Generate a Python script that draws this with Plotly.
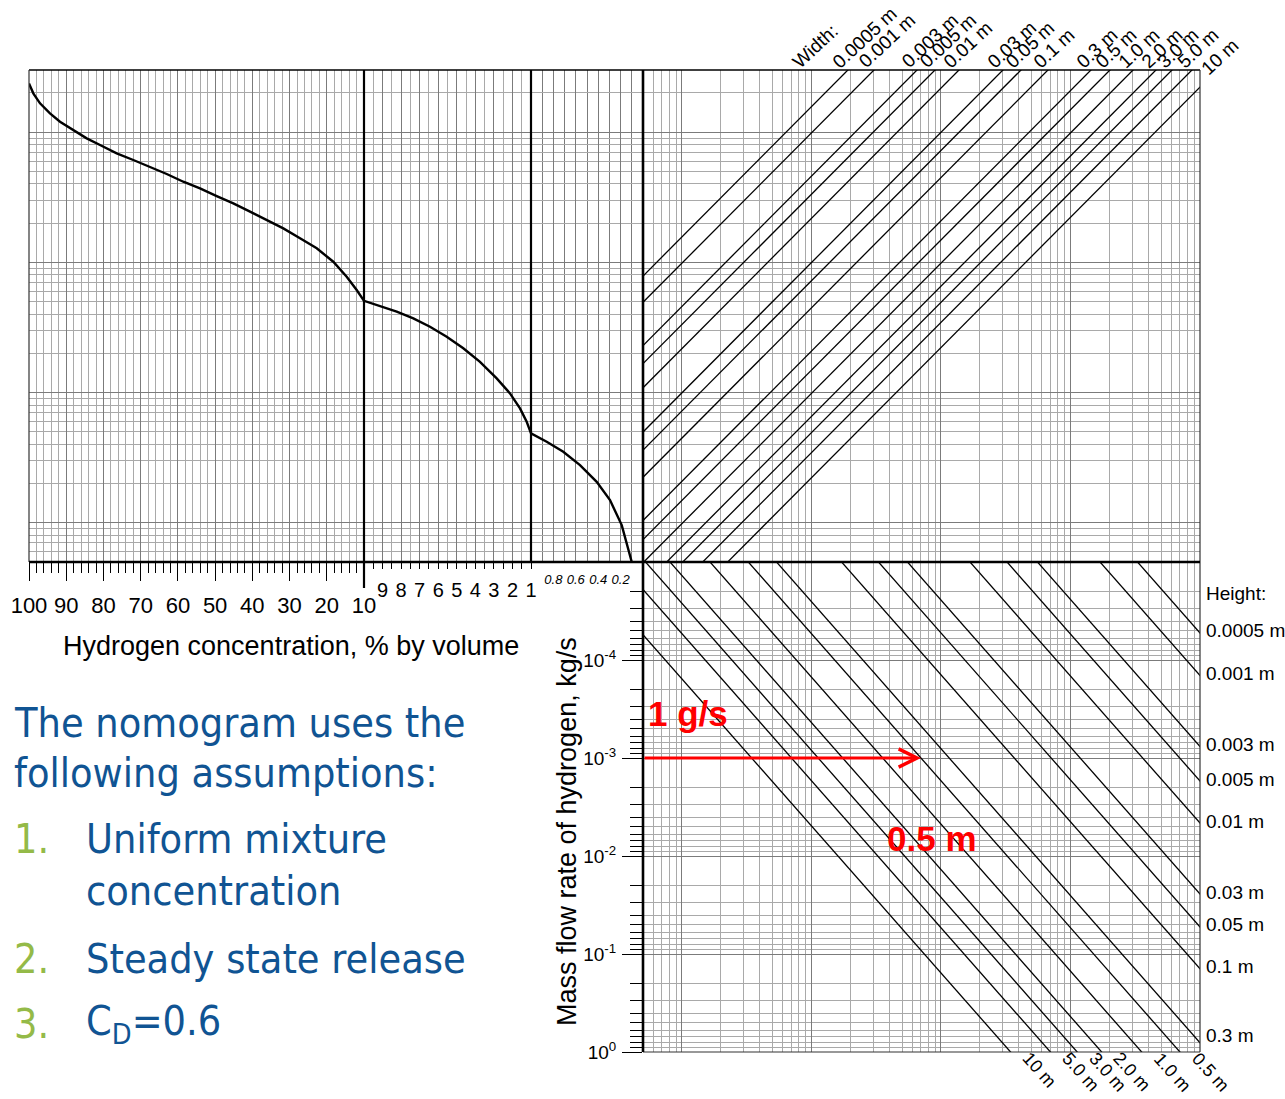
import math
import plotly.graph_objects as go

# ------------------------------------------------------------------ data
# Concentration curve: hydrogen % by volume against the nomogram ordinate,
# one piece per section of the broken concentration scale.
conc_high = [100, 98.84, 97.04, 94.36, 91.67, 88.10, 84.50, 80.92, 76.44, 71.98,
             67.49, 63.00, 58.55, 54.06, 49.57, 45.11, 40.62, 36.14, 31.68, 27.19,
             22.70, 18.25, 14.65, 11.96, 10.0]
ord_high = [2361, 1986, 1664, 1394, 1202, 1038, 896, 796, 687, 611,
            542, 477, 416, 370, 323, 284, 245, 211, 182.4, 152.9,
            128.2, 101.1, 77.5, 61.3, 50.7]
conc_mid = [10.0, 9.138, 8.238, 7.343, 6.443, 5.543, 4.649, 3.749, 2.849, 2.132,
            1.593, 1.232, 1.0]
ord_mid = [50.7, 46.2, 41.8, 37.1, 32.0, 26.8, 21.9, 17.2, 12.85, 9.86,
           7.56, 5.97, 4.86]
conc_low = [1.0, 0.860, 0.712, 0.5625, 0.4134, 0.2946, 0.190, 0.1455, 0.1009]
ord_low = [4.86, 4.19, 3.51, 2.77, 2.065, 1.494, 0.960, 0.695, 0.502]

# Vent width family (upper right): abscissa where each line meets ordinate 1000
width_labels = ["0.0005 m", "0.001 m", "0.003 m", "0.005 m", "0.01 m", "0.03 m",
                "0.05 m", "0.1 m", "0.3 m", "0.5 m", "1.0 m", "2.0 m", "3.0 m",
                "5.0 m", "10 m"]
width_x_at_1000 = [6.37, 10.13, 21.77, 29.97, 45.9, 100.3, 138.3, 223.3, 479.7,
                   672.7, 1013.7, 1523.7, 2027, 2890, 4507]
WIDTH_SLOPE = 1.0

# Vent height family (lower right): abscissa where each line meets 1e-5 kg/s
height_labels = ["0.0005 m", "0.001 m", "0.003 m", "0.005 m", "0.01 m", "0.03 m",
                 "0.05 m", "0.1 m", "0.3 m", "0.5 m", "1.0 m", "2.0 m", "3.0 m",
                 "5.0 m", "10 m"]
height_x_at_1e5 = [3292, 1690, 556, 323.6, 167.5, 55.1, 32.9, 17.08, 5.37,
                   3.25, 1.646, 0.808, 0.523, 0.325, 0.160]
HEIGHT_SLOPE = 1.5

# Worked example
example_rate = 1e-3          # kg/s (1 g/s)
example_height = "0.5 m"

# Tick labels
conc_ticks_high = [100, 90, 80, 70, 60, 50, 40, 30, 20, 10]
conc_ticks_mid = [9, 8, 7, 6, 5, 4, 3, 2, 1]
conc_ticks_low = [0.8, 0.6, 0.4, 0.2]
flow_ticks = [1e-4, 1e-3, 1e-2, 1e-1, 1]
flow_ticktext = ["10<sup>-4</sup>", "10<sup>-3</sup>", "10<sup>-2</sup>",
                 "10<sup>-1</sup>", "10<sup>0</sup>"]

# ------------------------------------------------------------------ layout
FIG_W, FIG_H = 1285, 1099
X_LEFT, X_10, X_1, X_MID, X_RIGHT = 29, 364, 531, 643, 1200
Y_TOP, Y_MID, Y_BOT = 70, 562, 1052

def fx(px):
    return px / FIG_W

def fy(py):
    return 1 - py / FIG_H

ORD_RANGE = [math.log10(0.5), math.log10(3000)]
ABS_RANGE = [math.log10(0.5), 4.0]
FLOW_RANGE = [0, -5]
PX_PER_DECADE = (X_RIGHT - X_MID) / (ABS_RANGE[1] - ABS_RANGE[0])

GRID_DARK = "#7b7b7b"
GRID_LIGHT = "#a9a9a9"
LABEL_FONT = "Liberation Sans, Arial, sans-serif"
TEXT_FONT = "DejaVu Sans Condensed, DejaVu Sans, sans-serif"
BLUE = "#105493"
GREEN = "#94ba48"
RED = "#ff0000"


def log_steps(lo_exp, hi_exp, lo=None, hi=None):
    major, minor = [], []
    for e in range(lo_exp, hi_exp + 1):
        for d in range(1, 10):
            v = d * 10 ** e
            if lo is not None and v < lo * 0.999:
                continue
            if hi is not None and v > hi * 1.001:
                continue
            (major if d == 1 else minor).append(v)
    return major, minor


abs_major, abs_minor = log_steps(-1, 4, 0.5, 1e4)
ord_major, ord_minor = log_steps(-1, 3, 0.5, 3000)
flow_major, flow_minor = log_steps(-5, 0, 1e-5, 1)

fig = go.Figure()

# concentration curve
for xs, ys, xa in ((conc_high, ord_high, "x"), (conc_mid, ord_mid, "x2"),
                   (conc_low, ord_low, "x3")):
    fig.add_trace(go.Scatter(x=xs, y=ys, xaxis=xa, yaxis="y", mode="lines",
                             line=dict(color="black", width=2.4),
                             hoverinfo="skip", showlegend=False))

# vent width lines
x_span = [0.2, 3e4]
for xw in width_x_at_1000:
    fig.add_trace(go.Scatter(
        x=x_span, y=[1000 * (x / xw) ** WIDTH_SLOPE for x in x_span],
        xaxis="x4", yaxis="y", mode="lines",
        line=dict(color="black", width=1.3), hoverinfo="skip", showlegend=False))

# vent height lines
for x0 in height_x_at_1e5:
    fig.add_trace(go.Scatter(
        x=x_span, y=[1e-5 * (x / x0) ** HEIGHT_SLOPE for x in x_span],
        xaxis="x5", yaxis="y2", mode="lines",
        line=dict(color="black", width=1.3), hoverinfo="skip", showlegend=False))

tick_font = dict(family=LABEL_FONT, color="black")

fig.update_layout(
    width=FIG_W, height=FIG_H,
    margin=dict(l=0, r=0, t=0, b=0, pad=0, autoexpand=False),
    paper_bgcolor="white", plot_bgcolor="white",
    showlegend=False,
    xaxis=dict(
        domain=[fx(X_LEFT), fx(X_10)], range=[100, 10], anchor="y",
        automargin=False,
        tickmode="array", tickvals=conc_ticks_high,
        ticktext=[str(v) for v in conc_ticks_high],
        ticks="outside", ticklen=18, tickcolor="black", tickwidth=1,
        tickfont=dict(size=22, **tick_font), ticklabelstandoff=6,
        showgrid=True, gridcolor=GRID_DARK, gridwidth=1,
        minor=dict(tickvals=[v for v in range(12, 100, 2) if v % 10],
                   ticks="outside", ticklen=10, tickcolor="black",
                   showgrid=True, gridcolor=GRID_LIGHT),
        zeroline=False, showline=False),
    xaxis2=dict(
        domain=[fx(X_10), fx(X_1)], range=[10, 1], anchor="y",
        automargin=False,
        tickmode="array", tickvals=conc_ticks_mid,
        ticktext=[str(v) for v in conc_ticks_mid],
        ticks="outside", ticklen=6, tickcolor="black", tickwidth=1,
        tickfont=dict(size=20, **tick_font), ticklabelstandoff=4,
        showgrid=True, gridcolor=GRID_DARK,
        minor=dict(tickvals=[v + 0.5 for v in range(1, 10)],
                   ticks="outside", ticklen=6, tickcolor="black",
                   showgrid=True, gridcolor=GRID_LIGHT),
        zeroline=False, showline=False),
    xaxis3=dict(
        domain=[fx(X_1), fx(X_MID)], range=[1, 0], anchor="y",
        automargin=False,
        tickmode="array", tickvals=conc_ticks_low,
        ticktext=[f"{v:.1f}" for v in conc_ticks_low],
        ticks="", tickfont=dict(size=13, style="italic", **tick_font),
        ticklabelstandoff=8,
        showgrid=True, gridcolor=GRID_DARK,
        minor=dict(tickvals=[0.1, 0.3, 0.5, 0.7, 0.9], ticks="",
                   showgrid=True, gridcolor=GRID_DARK),
        zeroline=False, showline=False),
    xaxis4=dict(
        domain=[fx(X_MID), fx(X_RIGHT)], type="log", range=ABS_RANGE, anchor="y",
        automargin=False,
        tickmode="array", tickvals=abs_major, showticklabels=False, ticks="",
        showgrid=True, gridcolor=GRID_DARK,
        minor=dict(tickvals=abs_minor, ticks="", showgrid=True,
                   gridcolor=GRID_LIGHT),
        zeroline=False, showline=False),
    xaxis5=dict(
        domain=[fx(X_MID), fx(X_RIGHT)], type="log", range=ABS_RANGE, anchor="y2",
        matches="x4", automargin=False,
        tickmode="array", tickvals=abs_major, showticklabels=False, ticks="",
        showgrid=True, gridcolor=GRID_DARK,
        minor=dict(tickvals=abs_minor, ticks="", showgrid=True,
                   gridcolor=GRID_LIGHT),
        zeroline=False, showline=False),
    yaxis=dict(
        domain=[fy(Y_MID), fy(Y_TOP)], type="log", range=ORD_RANGE, anchor="x",
        automargin=False,
        tickmode="array", tickvals=ord_major, showticklabels=False, ticks="",
        showgrid=True, gridcolor=GRID_DARK,
        minor=dict(tickvals=ord_minor, ticks="", showgrid=True,
                   gridcolor=GRID_LIGHT),
        zeroline=False, showline=False),
    yaxis2=dict(
        domain=[fy(Y_BOT), fy(Y_MID)], type="log", range=FLOW_RANGE, anchor="x5",
        automargin=False,
        tickmode="array", tickvals=flow_ticks, ticktext=flow_ticktext,
        ticks="outside", ticklen=20, tickcolor="black", tickwidth=1,
        tickfont=dict(size=19, **tick_font), ticklabelstandoff=2,
        showgrid=True, gridcolor=GRID_DARK,
        minor=dict(tickvals=flow_minor + [1e-5], ticks="outside", ticklen=12,
                   tickcolor="black", showgrid=True, gridcolor=GRID_LIGHT),
        zeroline=False, showline=False),
)

# panel frame and section dividers
def line_shape(x0, y0, x1, y1, width, color="black"):
    return dict(type="line", xref="paper", yref="paper",
                x0=fx(x0), y0=fy(y0), x1=fx(x1), y1=fy(y1),
                line=dict(color=color, width=width), layer="above")

shapes = [
    line_shape(X_LEFT, Y_TOP, X_RIGHT, Y_TOP, 1.5),
    line_shape(X_LEFT, Y_TOP, X_LEFT, Y_MID, 1.2, "#333333"),
    line_shape(X_RIGHT, Y_TOP, X_RIGHT, Y_BOT, 1.2, "#333333"),
    line_shape(X_MID, Y_BOT, X_RIGHT, Y_BOT, 1.2, "#333333"),
    line_shape(X_LEFT, Y_MID, X_RIGHT, Y_MID, 2.6),
    line_shape(X_MID, Y_TOP, X_MID, Y_BOT, 2.6),
    line_shape(X_10, Y_TOP, X_10, Y_MID + 26, 2.2),
    line_shape(X_1, Y_TOP, X_1, Y_MID, 2.2),
]
fig.update_layout(shapes=shapes)

ann = []
lab = dict(family=LABEL_FONT, size=19, color="black")
lab_small = dict(family=LABEL_FONT, size=18, color="black")

# width labels along the top edge
y_top_val = 10 ** ORD_RANGE[1]
ann.append(dict(text="Width:", xref="paper", yref="paper", x=fx(785), y=fy(Y_TOP),
                xanchor="left", yanchor="bottom", textangle=-43, yshift=-5,
                showarrow=False, font=lab))
for name, xw in zip(width_labels, width_x_at_1000):
    lx = math.log10(xw * (y_top_val / 1000) ** (1 / WIDTH_SLOPE))
    beyond = max(0.0, lx - ABS_RANGE[1]) * PX_PER_DECADE
    ann.append(dict(text=name, xref="x4", yref="paper",
                    x=min(lx, ABS_RANGE[1] - 1e-6), y=fy(Y_TOP),
                    xanchor="left", yanchor="bottom", textangle=-43,
                    xshift=-22 + beyond, yshift=-5 - 0.4 * beyond,
                    showarrow=False, font=lab))

# height labels on the right edge or under the bottom edge
ann.append(dict(text="Height:", xref="paper", yref="paper", x=fx(1204), y=fy(593),
                xanchor="left", yanchor="middle", showarrow=False, font=lab))
x_max = 10 ** ABS_RANGE[1]
for name, x0 in zip(height_labels, height_x_at_1e5):
    m_right = 1e-5 * (x_max / x0) ** HEIGHT_SLOPE
    if m_right <= 1:
        near_floor = math.log10(m_right) > -0.3
        ann.append(dict(text=name, xref="paper", yref="y2", x=fx(1204),
                        y=math.log10(m_right), xanchor="left", yanchor="middle",
                        yshift=7 if near_floor else 2, showarrow=False, font=lab))
    else:
        x_bot = x0 * (1 / 1e-5) ** (1 / HEIGHT_SLOPE)
        ann.append(dict(text=name, xref="x5", yref="paper", x=math.log10(x_bot),
                        y=fy(Y_BOT), xanchor="left", yanchor="top", textangle=48,
                        xshift=5, yshift=6, showarrow=False, font=lab_small))

# worked example: 1 g/s through a 0.5 m high vent
x0_ex = height_x_at_1e5[height_labels.index(example_height)]
x_hit = x0_ex * (example_rate / 1e-5) ** (1 / HEIGHT_SLOPE)
ann.append(dict(text="", xref="x5", yref="y2", x=math.log10(x_hit),
                y=math.log10(example_rate), axref="x5", ayref="y2",
                ax=ABS_RANGE[0], ay=math.log10(example_rate), showarrow=True,
                arrowhead=5, arrowsize=1.2, arrowwidth=3, arrowcolor=RED,
                standoff=0, startstandoff=0))
ann.append(dict(text="<b>1 g/s</b>", xref="paper", yref="paper", x=fx(646),
                y=fy(713), xanchor="left", yanchor="middle", showarrow=False,
                font=dict(family=LABEL_FONT, size=35, color=RED)))
ann.append(dict(text="<b>0.5 m</b>", xref="paper", yref="paper", x=fx(932),
                y=fy(838), xanchor="center", yanchor="middle", showarrow=False,
                font=dict(family=LABEL_FONT, size=35, color=RED)))

# axis titles
ann.append(dict(text="Hydrogen concentration, % by volume", xref="paper",
                yref="paper", x=fx(291), y=fy(646), xanchor="center",
                yanchor="middle", showarrow=False,
                font=dict(family=LABEL_FONT, size=27, color="black")))
ann.append(dict(text="Mass flow rate of hydrogen, kg/s", xref="paper",
                yref="paper", x=fx(567), y=fy(832), xanchor="center",
                yanchor="middle", textangle=-90, showarrow=False,
                font=dict(family=LABEL_FONT, size=27, color="black")))

# assumptions note
note_font = dict(family=TEXT_FONT, size=41, color=BLUE)
num_font = dict(family=TEXT_FONT, size=41, color=GREEN)
note_lines = [
    (12, 723, "The nomogram uses the", note_font),
    (12, 773, "following assumptions:", note_font),
    (12, 839, "1.", num_font),
    (84, 839, "Uniform mixture", note_font),
    (84, 891, "concentration", note_font),
    (12, 959, "2.", num_font),
    (84, 959, "Steady state release", note_font),
    (12, 1024, "3.", num_font),
    (84, 1024, "C<sub>D</sub>=0.6", note_font),
]
for px, py, txt, fnt in note_lines:
    ann.append(dict(text=txt, xref="paper", yref="paper", x=fx(px), y=fy(py),
                    xanchor="left", yanchor="middle", showarrow=False, font=fnt))

fig.update_layout(annotations=ann)

fig.write_html("out.html")
